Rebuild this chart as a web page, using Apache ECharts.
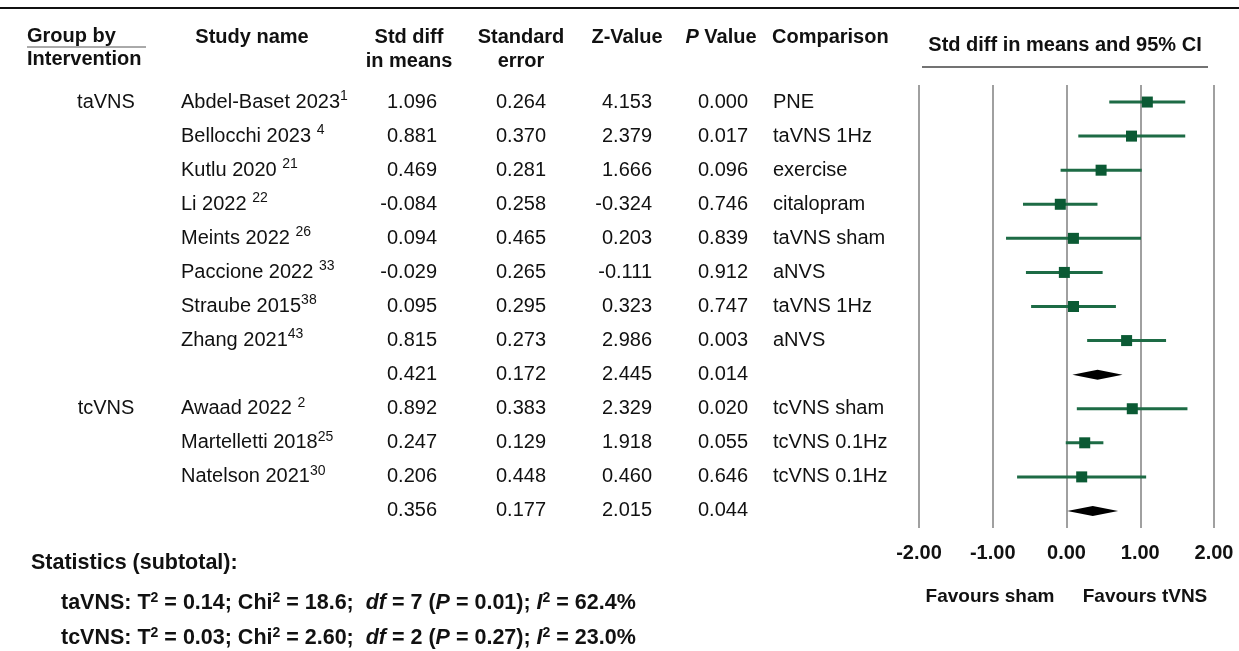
<!DOCTYPE html>
<html><head><meta charset="utf-8">
<script src="https://cdn.jsdelivr.net/npm/echarts@6/dist/echarts.min.js"></script>
<style>html,body{margin:0;padding:0;background:#fff}#c{width:1239px;height:651px}</style>
</head><body><div id="c"></div>
<script>
// ---- data ----
const groups = ['taVNS','','','','','','','','','tcVNS','','',''];
const studies = ['Abdel-Baset 2023','Bellocchi 2023 ','Kutlu 2020 ','Li 2022 ','Meints 2022 ','Paccione 2022 ','Straube 2015','Zhang 2021','','Awaad 2022 ','Martelletti 2018','Natelson 2021',''];
const refs = ['1','4','21','22','26','33','38','43','','2','25','30',''];
const smd = [1.096,0.881,0.469,-0.084,0.094,-0.029,0.095,0.815,0.421,0.892,0.247,0.206,0.356];
const stdErr = [0.264,0.370,0.281,0.258,0.465,0.265,0.295,0.273,0.172,0.383,0.129,0.448,0.177];
const zValue = [4.153,2.379,1.666,-0.324,0.203,-0.111,0.323,2.986,2.445,2.329,1.918,0.460,2.015];
const pValue = ['0.000','0.017','0.096','0.746','0.839','0.912','0.747','0.003','0.014','0.020','0.055','0.646','0.044'];
const comparison = ['PNE','taVNS 1Hz','exercise','citalopram','taVNS sham','aNVS','taVNS 1Hz','aNVS','','tcVNS sham','tcVNS 0.1Hz','tcVNS 0.1Hz',''];
const lower = [0.58,0.16,-0.08,-0.59,-0.82,-0.55,-0.48,0.28,0.08,0.14,-0.01,-0.67,0.01];
const upper = [1.61,1.61,1.02,0.42,1.01,0.49,0.67,1.35,0.76,1.64,0.50,1.08,0.70];
const isSubtotal = [0,0,0,0,0,0,0,0,1,0,0,0,1];
const statGroups = ['taVNS','tcVNS'];
const tau2 = ['0.14','0.03'];
const chi2 = ['18.6','2.60'];
const dfHet = ['7','2'];
const pHet = ['0.01','0.27'];
const i2 = ['62.4%','23.0%'];

// ---- chart ----
const FONT = '"Liberation Sans", Arial, sans-serif';
const INK = '#111';
const rows = studies.map((_, i) => i);
const chart = echarts.init(document.getElementById('c'), null, {renderer: 'canvas'});

const supStyle = {fontSize: 14, fontFamily: FONT, fill: INK, verticalAlign: 'top', lineHeight: 14};
const baseFont = {fontSize: 20, fontFamily: FONT, fill: INK};

function txt(text, x, y, align, extra) {
  return {type: 'text', style: Object.assign({text: text, x: x, y: y, align: align, verticalAlign: 'middle'}, baseFont, extra || {})};
}
function head(text, x, y, align, extra) {
  return {type: 'text', style: Object.assign({text: text, x: x, y: y, align: align || 'center', verticalAlign: 'middle',
    font: 'bold 20px ' + FONT, fill: INK}, extra || {})};
}

const forestData = rows.map(i => [smd[i], i, lower[i], upper[i], isSubtotal[i]]);
const tableData = rows.map(i => [0, i]);

const option = {
  animation: false,
  backgroundColor: '#fff',
  grid: {left: 919, width: 295, top: 85, height: 443},
  xAxis: {
    type: 'value', min: -2, max: 2, interval: 1,
    axisLine: {show: false}, axisTick: {show: false},
    splitLine: {show: true, lineStyle: {color: '#808080', width: 1.5}},
    axisLabel: {fontFamily: FONT, fontSize: 20, fontWeight: 'bold', color: INK, margin: 15,
      formatter: v => v.toFixed(2)}
  },
  yAxis: {type: 'category', inverse: true, data: rows.map(String), show: false},
  series: [
    {
      type: 'custom', clip: false, data: forestData,
      renderItem: function (params, api) {
        const m = api.value(0), i = api.value(1), lo = api.value(2), hi = api.value(3), sub = api.value(4);
        const p0 = api.coord([lo, i]), p1 = api.coord([hi, i]), pm = api.coord([m, i]);
        if (sub) {
          return {type: 'polygon', shape: {points: [[p0[0], p0[1]], [pm[0], pm[1] - 5], [p1[0], p1[1]], [pm[0], pm[1] + 5]]},
            style: {fill: '#000'}};
        }
        const s = 11;
        return {type: 'group', children: [
          {type: 'line', shape: {x1: p0[0], y1: p0[1], x2: p1[0], y2: p1[1]}, style: {stroke: '#1d6b45', lineWidth: 3}},
          {type: 'rect', shape: {x: pm[0] - s / 2, y: pm[1] - s / 2, width: s, height: s}, style: {fill: '#0b5a34'}}
        ]};
      }
    },
    {
      type: 'custom', clip: false, data: tableData, silent: true,
      renderItem: function (params, api) {
        const i = api.value(1);
        const y = api.coord([0, i])[1];
        const children = [];
        if (groups[i]) children.push(txt(groups[i], 106, y, 'center'));
        if (studies[i]) children.push(txt(studies[i] + '{sup|' + refs[i] + '}', 181, y, 'left', {lineHeight: 26, rich: {sup: supStyle}}));
        children.push(txt(smd[i].toFixed(3), 437, y, 'right'));
        children.push(txt(stdErr[i].toFixed(3), 546, y, 'right'));
        children.push(txt(zValue[i].toFixed(3), 652, y, 'right'));
        children.push(txt(pValue[i], 748, y, 'right'));
        if (comparison[i]) children.push(txt(comparison[i], 773, y, 'left'));
        return {type: 'group', children: children};
      }
    }
  ],
  graphic: [
    {type: 'line', shape: {x1: 0, y1: 8, x2: 1239, y2: 8}, style: {stroke: '#111', lineWidth: 2}},
    head('Group by', 27, 36, 'left'),
    {type: 'line', shape: {x1: 27, y1: 47, x2: 146, y2: 47}, style: {stroke: '#555', lineWidth: 1}},
    head('Intervention', 27, 59, 'left'),
    head('Study name', 252, 37),
    head('Std diff', 409, 37),
    head('in means', 409, 61),
    head('Standard', 521, 37),
    head('error', 521, 61),
    head('Z-Value', 627, 37),
    head('{i|P} Value', 721, 37, 'center', {rich: {i: {fontStyle: 'italic', fontWeight: 'bold', fontSize: 20, fontFamily: FONT, fill: INK}}}),
    head('Comparison', 772, 37, 'left'),
    head('Std diff in means and 95% CI', 1065, 45),
    {type: 'line', shape: {x1: 922, y1: 67, x2: 1208, y2: 67}, style: {stroke: '#444', lineWidth: 1.5}},
    head('Favours sham', 990, 597, 'center', {font: 'bold 19px ' + FONT}),
    head('Favours tVNS', 1145, 597, 'center', {font: 'bold 19px ' + FONT}),
    head('Statistics (subtotal):', 31, 563, 'left', {font: 'bold 21.5px ' + FONT})
  ].concat(statGroups.map((g, k) => ({
    type: 'text',
    style: {
      text: g + ': T{sup|2} = ' + tau2[k] + '; Chi{sup|2} = ' + chi2[k] + ';  {i|df} = ' + dfHet[k] + ' ({i|P} = ' + pHet[k] + '); {i|I}{sup|2} = ' + i2[k],
      x: 61, y: 603 + k * 35, align: 'left', verticalAlign: 'middle', font: 'bold 21.5px ' + FONT, fill: INK, lineHeight: 24,
      rich: {
        sup: {fontSize: 14, fontWeight: 'bold', fontFamily: FONT, fill: INK, verticalAlign: 'top', lineHeight: 14},
        i: {fontStyle: 'italic', fontWeight: 'bold', fontSize: 21.5, fontFamily: FONT, fill: INK}
      }
    }
  })))
};
chart.setOption(option);
</script>
</body></html>
